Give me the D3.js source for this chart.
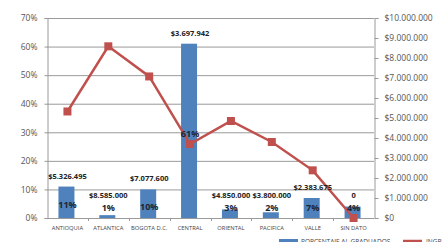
<!DOCTYPE html>
<html>
<head>
<meta charset="utf-8">
<script src="https://cdn.jsdelivr.net/npm/d3@7"></script>
<style>
	body { margin: 0; background: #fff; }
	text { font-family: "Open Sans", "DejaVu Sans", sans-serif; }
</style>
</head>
<body>
<div id="chart"></div>
<script>
// Data
var regions = ["ANTIOQUIA", "ATLANTICA", "BOGOTA D.C.", "CENTRAL", "ORIENTAL", "PACIFICA", "VALLE", "SIN DATO"];
var pct_graduados = [11, 1, 10, 61, 3, 2, 7, 4];
var ingreso = [5326495, 8585000, 7077600, 3697942, 4850000, 3800000, 2383675, 0];
var ingreso_labels = ["$5.326.495", "$8.585.000", "$7.077.600", "$3.697.942", "$4.850.000", "$3.800.000", "$2.383.675", "0"];
var left_ticks = [0, 10, 20, 30, 40, 50, 60, 70];
var right_ticks = [0, 1e6, 2e6, 3e6, 4e6, 5e6, 6e6, 7e6, 8e6, 9e6, 10e6];

var width = 442;
var height = 242;
var margin = { top: 18, right: 68, bottom: 24, left: 47 };

var bar_color = "#4F81BD";
var line_color = "#C0504D";

var svg = d3.select("#chart").append("svg")
	.attr("width", width)
	.attr("height", height);

var x = d3.scaleBand().domain(regions)
	.range([margin.left, width - margin.right]);
var y_left = d3.scaleLinear().domain([0, 70])
	.range([height - margin.bottom, margin.top]);
var y_right = d3.scaleLinear().domain([0, 10e6])
	.range([height - margin.bottom, margin.top]);

// thousands with dots, as in the original
function money(v) {
	return "$" + d3.format(",")(v).replace(/,/g, ".");
}

// gridlines
svg.append("g").selectAll("line").data(left_ticks.slice(1)).enter().append("line")
	.attr("x1", margin.left).attr("x2", width - margin.right)
	.attr("y1", function(d) { return y_left(d) + 0.5; })
	.attr("y2", function(d) { return y_left(d) + 0.5; })
	.style("stroke", "#9a9a9a").style("stroke-width", 1);

// left axis
var left_axis = svg.append("g")
	.attr("transform", "translate(" + (margin.left + 0.5) + ",0)")
	.call(d3.axisLeft(y_left).tickValues(left_ticks).tickSize(3).tickPadding(7)
		.tickFormat(function(d) { return d + "%"; }));
left_axis.selectAll("path, line").style("stroke", "#9a9a9a");
left_axis.selectAll("text").style("font-size", "8.5px").style("fill", "#555");

// right axis
var right_axis = svg.append("g")
	.attr("transform", "translate(" + (width - margin.right + 0.5) + ",0)")
	.call(d3.axisRight(y_right).tickValues(right_ticks).tickSize(4).tickPadding(6)
		.tickFormat(money));
right_axis.selectAll("path, line").style("stroke", "#9a9a9a");
right_axis.selectAll("text").style("font-size", "8.5px").style("fill", "#555");

// bottom axis, ticks between categories
var base_y = y_left(0);
svg.append("line")
	.attr("x1", margin.left).attr("x2", width - margin.right)
	.attr("y1", base_y + 0.5).attr("y2", base_y + 0.5)
	.style("stroke", "#9a9a9a");
svg.append("g").selectAll("line").data(regions.slice(1)).enter().append("line")
	.attr("x1", function(d) { return Math.round(x(d)) + 0.5; })
	.attr("x2", function(d) { return Math.round(x(d)) + 0.5; })
	.attr("y1", base_y).attr("y2", base_y + 3)
	.style("stroke", "#9a9a9a");
svg.append("g").selectAll("text").data(regions).enter().append("text")
	.attr("x", function(d) { return x(d) + x.bandwidth() / 2; })
	.attr("y", base_y + 12)
	.attr("text-anchor", "middle")
	.style("font-size", "5.8px")
	.style("fill", "#444")
	.text(function(d) { return d; });

// bars
var bar_w = 16;
svg.append("g").selectAll("rect").data(pct_graduados).enter().append("rect")
	.attr("x", function(d, i) { return x(regions[i]) + x.bandwidth() / 2 - bar_w / 2 - 1; })
	.attr("y", function(d) { return y_left(d); })
	.attr("width", bar_w)
	.attr("height", function(d) { return base_y - y_left(d); })
	.style("fill", bar_color);

// line + square markers
var line = d3.line()
	.x(function(d, i) { return x(regions[i]) + x.bandwidth() / 2; })
	.y(function(d) { return y_right(d); });
svg.append("path").datum(ingreso)
	.attr("d", line)
	.style("fill", "none")
	.style("stroke", line_color)
	.style("stroke-width", 2.5);
svg.append("g").selectAll("rect").data(ingreso).enter().append("rect")
	.attr("x", function(d, i) { return x(regions[i]) + x.bandwidth() / 2 - 4; })
	.attr("y", function(d) { return y_right(d) - 4; })
	.attr("width", 8).attr("height", 8)
	.style("fill", line_color);

// percentage labels
function pct_y(d) {
	return Math.min((y_left(d) + base_y) / 2 + 3, base_y - 10);
}
svg.append("g").selectAll("text").data(pct_graduados).enter().append("text")
	.attr("x", function(d, i) { return x(regions[i]) + x.bandwidth() / 2; })
	.attr("y", function(d) { return pct_y(d) + 3; })
	.attr("text-anchor", "middle")
	.style("font-size", "9px")
	.style("font-weight", "bold")
	.style("fill", "#1b2533")
	.text(function(d) { return d + "%"; });

// income labels above the bars
svg.append("g").selectAll("text").data(ingreso_labels).enter().append("text")
	.attr("x", function(d, i) { return x(regions[i]) + x.bandwidth() / 2; })
	.attr("y", function(d, i) {
		var p = pct_graduados[i];
		return Math.min(y_left(p) - 11, pct_y(p) - 13) + 3;
	})
	.attr("text-anchor", "middle")
	.style("font-size", "7.5px")
	.style("font-weight", "bold")
	.style("fill", "#222")
	.text(function(d) { return d; });

// legend (cut off at the bottom edge, as in the original)
var legend = svg.append("g").attr("transform", "translate(0," + (height - 2) + ")");
legend.append("rect").attr("x", 279).attr("y", -1).attr("width", 19).attr("height", 4)
	.style("fill", bar_color);
legend.append("text").attr("x", 301).attr("y", 4)
	.style("font-size", "6.5px").style("fill", "#444")
	.text("PORCENTAJE AL   GRADUADOS");
legend.append("line").attr("x1", 403).attr("x2", 422).attr("y1", 1).attr("y2", 1)
	.style("stroke", line_color).style("stroke-width", 2.5);
legend.append("text").attr("x", 426).attr("y", 4)
	.style("font-size", "6.5px").style("fill", "#444")
	.text("INGRESO");
</script>
</body>
</html>
